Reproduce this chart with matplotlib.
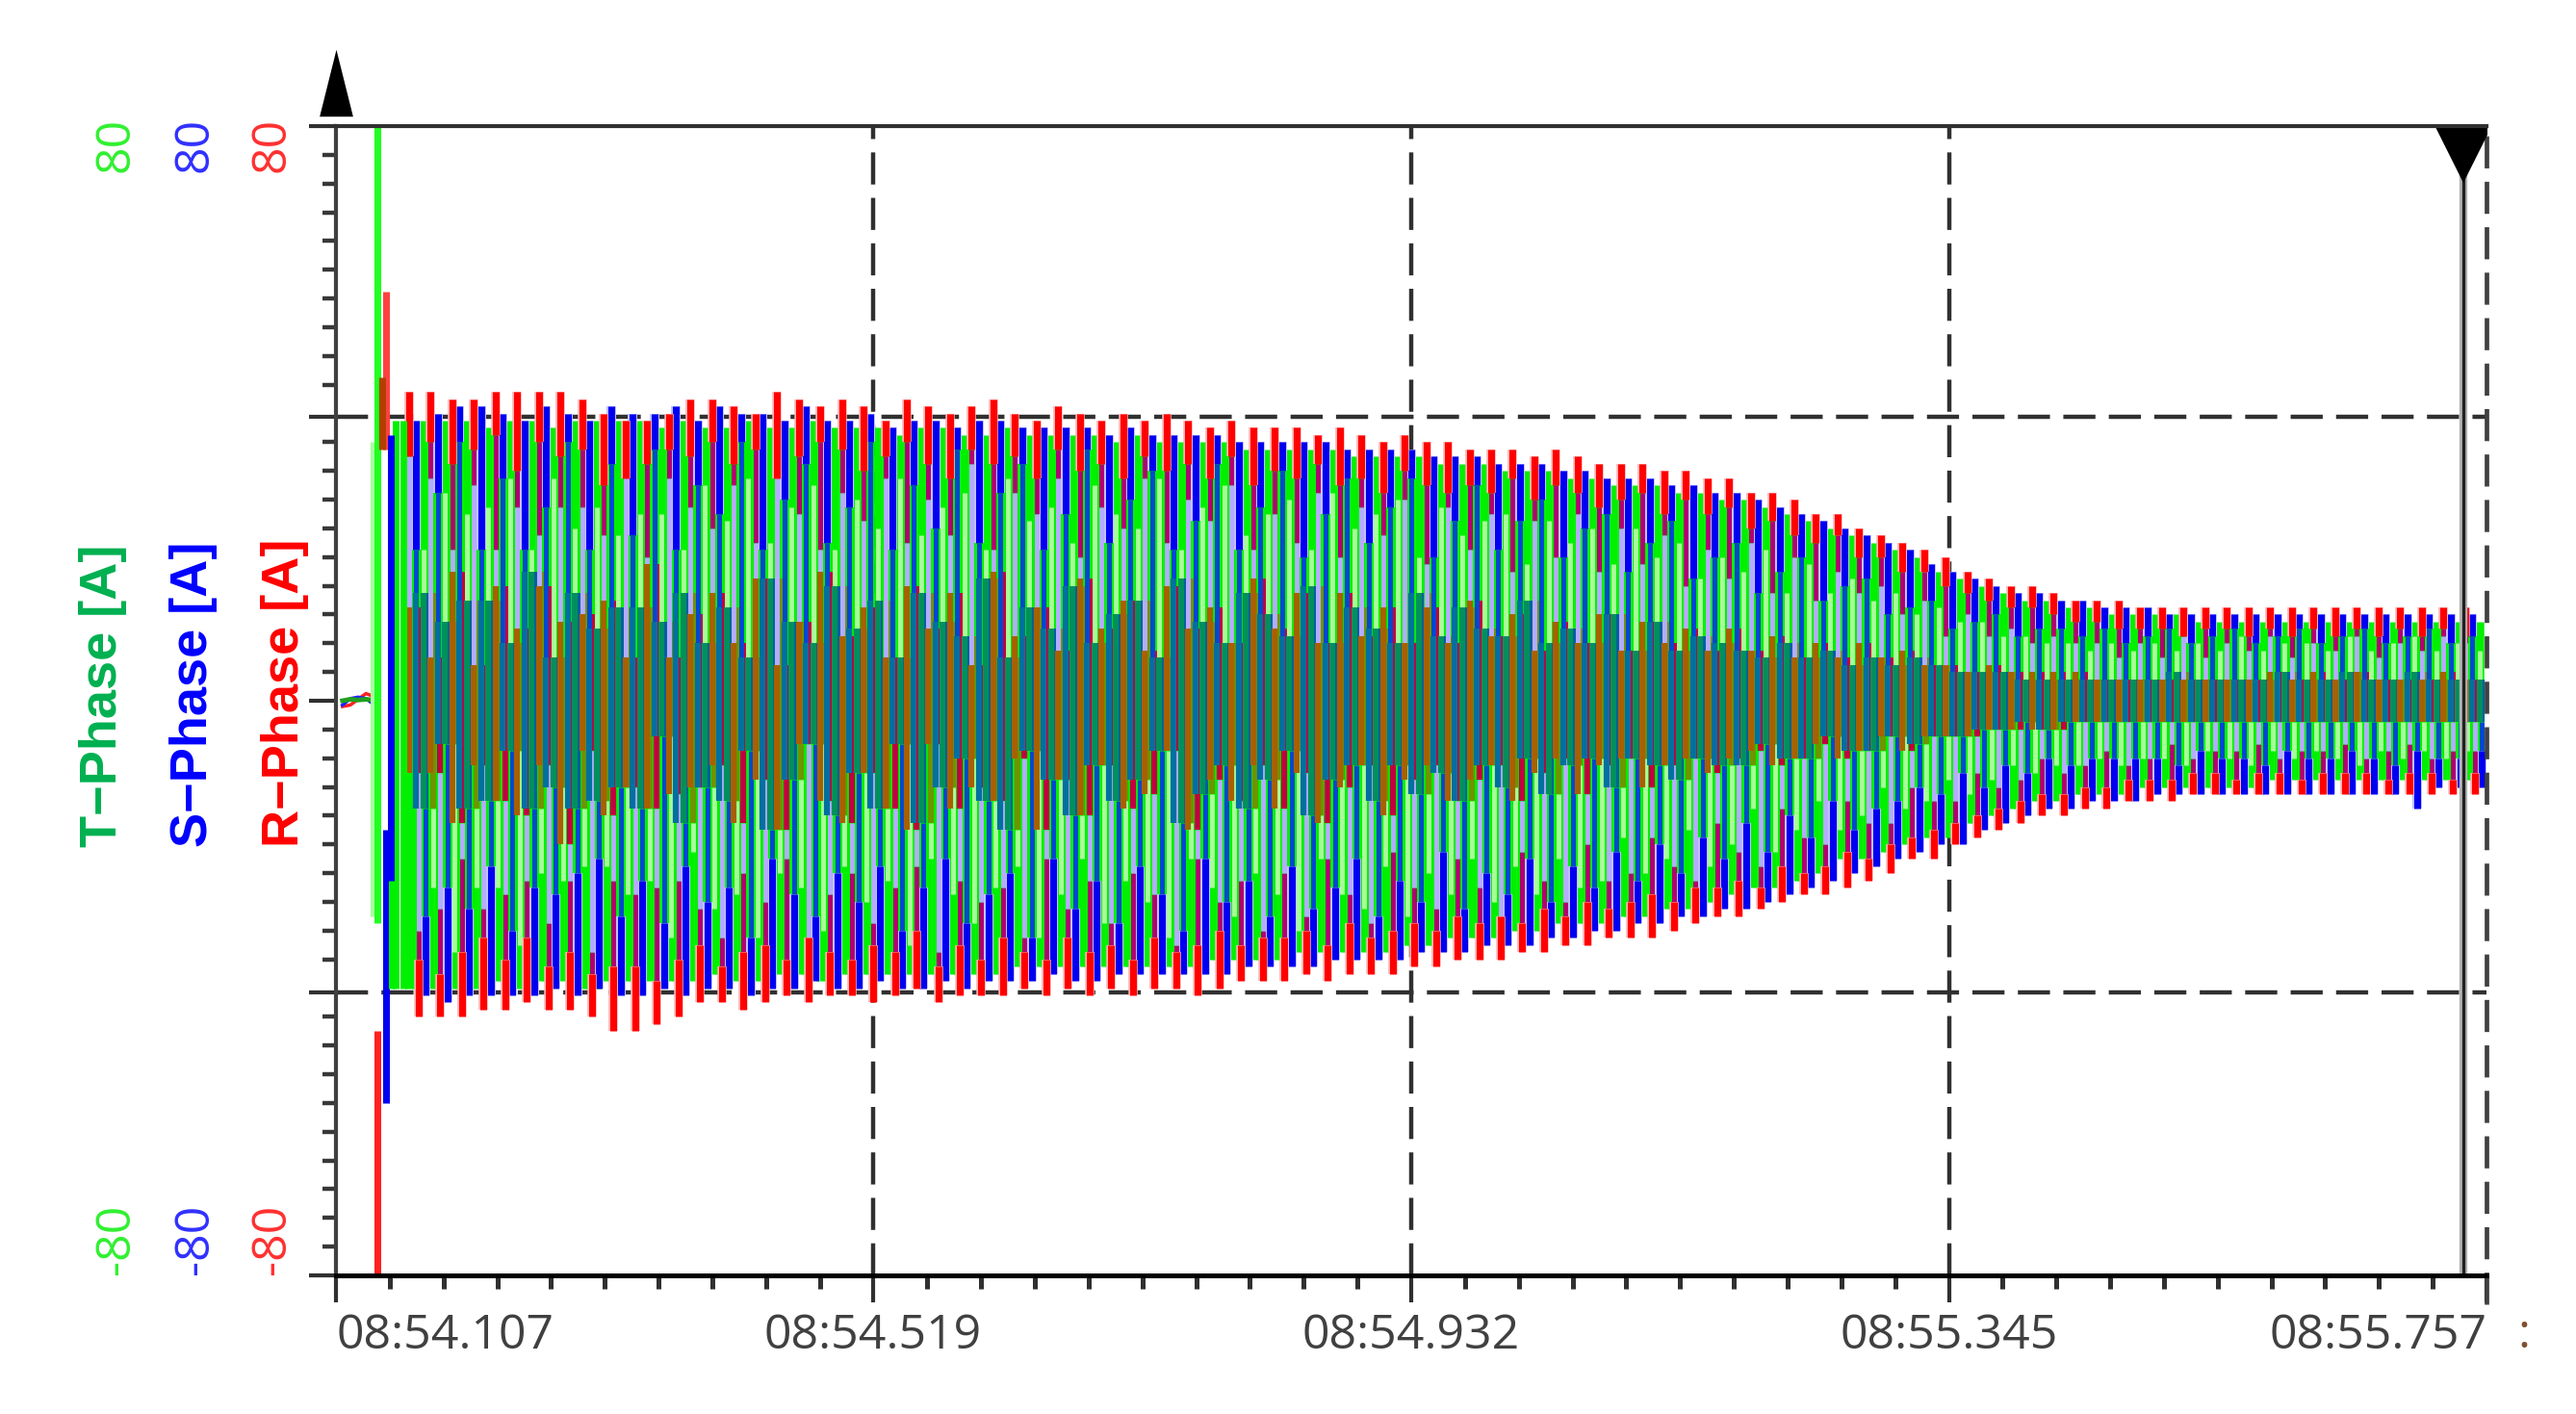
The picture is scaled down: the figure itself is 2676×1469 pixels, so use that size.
import matplotlib
matplotlib.use("Agg")
import numpy as np
import matplotlib.pyplot as plt

# values, one per 60 Hz cycle, in amps
hi_R = [43,43,42,42,43,43,43,43,42,40, 39,39,40,42,42,41,40,43,42,41, 42,41,39,42,41,40,41,42,40,39,
        41,40,39,40,39,40,39,38,39,38, 38,38,37,38,37,36,37,36,36,35, 35,35,34,35,34,33,33,33,32,32,
        31,31,29,29,28,26,26,24,23,22, 21,20,18,17,16,16,15,14,14,14, 13,13,13,13,13,13,13,13,13,13,
        13,13,13,13,13,13]
hi_S = [39,40,41,41,40,39,41,40,39,41, 40,40,41,39,41,40,40,39,41,39, 39,40,38,39,39,38,39,39,38,38,
        38,38,37,38,37,37,37,37,36,36, 36,36,36,35,35,35,35,34,34,34, 33,33,33,32,32,31,31,31,30,30,
        29,29,28,27,26,25,24,23,22,21, 19,18,17,16,15,15,14,14,13,13, 13,12,12,12,12,12,12,12,12,12,
        12,12,12,12,12,12]
hi_T = [39,39,39,38,39,39,38,39,39,39, 39,38,39,38,38,39,38,38,39,38, 38,38,37,38,38,37,37,38,37,37,
        37,37,36,37,36,36,36,36,35,35, 35,35,35,34,34,34,34,33,33,33, 32,32,32,31,31,30,30,30,29,29,
        28,28,27,26,25,24,23,22,21,20, 18,17,16,15,14,14,13,13,12,12, 12,12,11,11,11,11,11,11,11,11,
        11,11,11,11,11,11]
lo_R = [-44,-44,-44,-43,-43,-42,-43,-43,-44,-46, -46,-45,-44,-42,-42,-43,-42,-41,-42,-41,
        -41,-42,-41,-40,-42,-41,-41,-41,-40,-41, -40,-41,-40,-41,-40,-40,-41,-40,-39,-39,
        -39,-38,-39,-38,-38,-38,-37,-37,-36,-36, -36,-35,-35,-34,-34,-33,-33,-33,-32,-31,
        -30,-30,-29,-28,-27,-27,-26,-25,-24,-22, -22,-20,-19,-18,-17,-16,-16,-15,-15,-14,
        -14,-14,-13,-13,-13,-13,-13,-13,-13,-13, -13,-13,-13,-13,-13,-13]
lo_S = [-41,-42,-41,-41,-41,-41,-40,-41,-40,-41, -41,-40,-41,-40,-40,-41,-40,-40,-39,-40,
        -40,-39,-40,-40,-39,-40,-39,-39,-39,-38, -39,-39,-38,-38,-38,-38,-38,-38,-37,-37,
        -37,-37,-36,-36,-36,-36,-35,-35,-35,-34, -34,-34,-33,-33,-32,-32,-31,-31,-30,-30,
        -29,-29,-28,-27,-26,-25,-24,-23,-22,-21, -20,-20,-18,-17,-16,-15,-15,-14,-14,-14,
        -13,-13,-13,-13,-13,-13,-13,-13,-13,-13, -13,-13,-15,-12,-12,-12]
lo_T = [-40,-40,-40,-40,-39,-40,-39,-39,-40,-39, -39,-39,-39,-39,-38,-39,-39,-38,-38,-39,
        -38,-38,-38,-38,-38,-38,-38,-38,-37,-37, -37,-37,-37,-37,-37,-37,-37,-36,-36,-36,
        -36,-35,-35,-35,-35,-35,-34,-34,-33,-33, -33,-32,-32,-31,-31,-31,-30,-30,-29,-29,
        -28,-27,-26,-26,-25,-24,-22,-22,-21,-20, -19,-19,-17,-16,-15,-14,-14,-13,-13,-13,
        -12,-12,-12,-12,-12,-12,-11,-11,-11,-11, -11,-11,-11,-11,-11,-11]

# how far the red tips run before they sink into the other phases
up_red_stop = [34,36,33,35,37,32,36,34,35,30, 31,33,35,34,36,33,35,31,34,36, 35,32,34,36,33,31,35,33,34,31,
               35,32,33,31,34,32,33,31,34,30, 32,31,33,30,31,29,32,30,29,30, 29,31,28,30,29,27,28,29,26,28,
               26,27,24,25,23,22,23,20,20,18, 18,16,15,14,13,13,12,11,11,10, 10,10,9,10,10,9,10,9,10,9,
               10,9,10,9,10,9]
dn_red_stop = [-36,-38,-35,-33,-36,-33,-37,-35,-38,-37, -37,-39,-36,-34,-37,-35,-34,-36,-33,-35,
               -36,-34,-35,-32,-37,-34,-36,-33,-35,-36, -33,-35,-34,-36,-33,-35,-34,-32,-34,-33,
               -33,-32,-34,-31,-33,-32,-31,-32,-30,-31, -30,-31,-29,-30,-28,-29,-28,-27,-28,-26,
               -26,-25,-26,-23,-24,-23,-21,-22,-20,-19, -18,-17,-16,-15,-14,-13,-13,-12,-12,-11,
               -11,-11,-10,-10,-11,-10,-10,-11,-10,-10, -10,-11,-10,-10,-11,-10]

# edges of the pale gaps inside the band
up_R_end = [34,31,21,30,21,27,23,27,27,23, 33,20,31,27,24,30,22,32,26,21, 29,25,31,22,28,23,33,21,29,26,
            31,20,27,24,31,22,28,25,30,21, 26,22,29,20,27,23,28,19,27,21, 26,18,25,20,26,18,24,19,23,16,
            21,17,22,15,20,14,18,15,16,12, 14,9,12,9,10,8,9,8,8,6, 8,6,9,6,8,7,9,6,8,7, 9,6,8,7,9,8]
up_R_pale = [13,6,18,5,16,10,16,11,12,14, 6,19,6,12,15,8,17,5,11,18, 9,13,6,16,10,15,5,18,9,13,
             7,17,10,14,7,16,10,13,8,17, 10,15,8,15,9,13,8,13,8,14, 9,12,7,11,8,12,7,11,8,10,
             7,10,7,9,6,8,6,8,6,7, 5,5,4,5,4,4,4,4,3,3, 3,3,3,3,3,3,4,3,4,3, 4,3,3,3,4,3]
up_T_end = [21,29,26,27,31,21,31,24,27,23, 26,26,21,30,25,31,22,27,30,21, 28,24,31,23,27,29,21,31,25,27,
            22,30,26,24,31,21,27,30,23,26, 28,21,29,24,26,28,20,27,23,25, 26,19,25,22,24,19,24,20,22,17,
            20,18,21,15,19,15,17,14,15,12, 13,11,11,9,9,8,8,7,8,7, 8,7,8,7,9,7,8,8,7,9, 7,8,9,7,8,7]
up_T_pale = [15,11,14,14,8,18,6,15,10,13, 13,11,15,8,13,6,17,11,8,16, 10,14,6,15,11,9,17,6,13,10,
             16,8,12,14,6,17,11,8,15,12, 9,16,8,13,10,8,15,9,13,10, 9,14,8,10,8,12,7,11,7,9,
             8,7,6,8,6,7,5,6,5,6, 5,4,4,4,3,3,3,3,3,3, 3,4,3,3,3,3,4,3,3,4, 3,3,4,3,3,3]
up_S_end = [21,29,36,21,31,21,27,36,21,33, 23,35,21,30,26,36,21,28,33,22, 27,36,21,30,24,35,22,29,33,21,
            26,35,22,28,32,21,25,33,21,27, 32,20,26,31,22,27,31,20,25,30, 21,25,28,20,24,26,18,22,25,17,
            20,22,15,18,20,14,16,17,12,13, 14,10,11,12,9,10,10,9,10,8, 9,10,8,9,10,8,9,10,8,9, 10,8,9,10,8,9]
dn_R_end = [-32,-29,-22,-29,-27,-25,-31,-25,-35,-25, -27,-26,-25,-29,-33,-24,-28,-22,-34,-27,
            -24,-31,-26,-23,-35,-25,-28,-26,-33,-22, -29,-25,-31,-24,-27,-34,-22,-28,-25,-32,
            -24,-30,-22,-27,-31,-21,-26,-29,-22,-26, -30,-21,-25,-28,-20,-25,-24,-19,-23,-25,
            -17,-21,-23,-15,-19,-20,-14,-17,-17,-12, -14,-14,-10,-12,-11,-8,-10,-9,-7,-9,
            -8,-6,-8,-7,-7,-6,-8,-7,-7,-6, -8,-7,-6,-8,-7,-7]
dn_R_pale = [-10,-10,-17,-9,-14,-16,-9,-20,-7,-16, -12,-15,-13,-12,-9,-17,-11,-18,-6,-14,
             -17,-10,-15,-18,-6,-15,-12,-14,-8,-18, -11,-16,-9,-15,-13,-7,-18,-11,-14,-9,
             -15,-10,-17,-12,-9,-16,-11,-9,-14,-11, -9,-14,-10,-8,-13,-9,-8,-12,-9,-8,
             -10,-8,-7,-9,-8,-6,-8,-7,-5,-7, -5,-5,-5,-4,-4,-4,-4,-3,-3,-3,
             -3,-3,-3,-3,-3,-3,-3,-3,-3,-3, -3,-3,-3,-3,-3,-3]
dn_T_end = [-26,-35,-26,-26,-34,-24,-25,-23,-23,-27, -25,-33,-21,-29,-27,-33,-24,-26,-32,-23,
            -28,-25,-34,-22,-27,-31,-26,-23,-33,-27, -22,-31,-25,-28,-33,-22,-26,-30,-24,-27,
            -32,-22,-27,-29,-23,-30,-24,-27,-22,-28, -23,-27,-22,-26,-25,-19,-24,-22,-18,-23,
            -20,-15,-21,-18,-14,-18,-16,-12,-15,-14, -11,-13,-11,-9,-10,-9,-9,-8,-9,-8,
            -8,-9,-7,-8,-9,-7,-8,-7,-8,-9, -7,-8,-7,-8,-7,-8]
dn_T_pale = [-15,-6,-15,-14,-7,-15,-12,-15,-14,-12, -15,-5,-17,-12,-14,-7,-18,-11,-6,-16,
             -10,-15,-6,-17,-12,-8,-14,-18,-7,-11, -16,-9,-14,-11,-7,-17,-13,-9,-15,-11,
             -7,-16,-11,-9,-14,-9,-13,-10,-14,-9, -12,-8,-13,-9,-8,-12,-8,-9,-11,-8,
             -9,-9,-6,-8,-8,-5,-7,-7,-5,-6, -5,-5,-4,-4,-3,-4,-3,-3,-3,-3,
             -3,-3,-3,-3,-3,-3,-3,-3,-3,-3, -3,-3,-3,-3,-3,-3]
dn_S_end = [-30,-26,-29,-23,-32,-26,-27,-24,-22,-30, -25,-31,-23,-28,-26,-33,-22,-27,-30,-24,
            -28,-23,-32,-26,-22,-31,-27,-24,-33,-22, -29,-25,-31,-23,-27,-32,-22,-28,-25,-30,
            -23,-29,-26,-22,-30,-25,-28,-21,-29,-24, -27,-22,-28,-23,-26,-21,-25,-20,-24,-19,
            -22,-17,-21,-16,-19,-14,-18,-15,-14,-12, -13,-10,-12,-9,-10,-8,-9,-8,-8,-8,
            -8,-9,-7,-8,-8,-9,-7,-8,-8,-7, -8,-9,-7,-8,-8,-7]

# switching transient at the start of the record
fault_t = [54.1355, 54.1388, 54.1388, 54.1455, 54.1425, 54.1455, 54.1500, 54.1530, 54.1585, 54.1490]
fault_hi = [36, 80, -46, 57, 45, -18, 36, 39, 39, 37]
fault_lo = [-30, -31, -80, 35, 35, -56, -40, -40, -40, -25]
fault_colors = ["#A8FFA0", "#20FF20", "#FF2020", "#FF4040", "#B04000", "#0000F0", "#00F000", "#00F000", "#00F000",
                "#0000F0"]

# small pre-fault currents
pre_t = [54.112, 54.118, 54.124, 54.130, 54.136]
pre_R = [-0.8, -0.6, 0.2, 1.0, 0.6]
pre_S = [-0.6, 0.3, 0.5, 0.3, -0.5]
pre_T = [0.0, 0.2, 0.1, 0.2, 0.1]

time_ticks = [54.107, 54.519, 54.932, 55.345, 55.757]
time_labels = ["08:54.107", "08:54.519", "08:54.932", "08:55.345", "08:55.757"]
grid_amps = [39.5, -40.6]
cursor_time = 55.739

WIDTH, HEIGHT = 2676, 1469
LEFT, RIGHT, TOP, BOTTOM = 349, 2583, 131, 1325
PX = 0.72  # one pixel in points at dpi 100

plt.rcParams["lines.scale_dashes"] = False
fig = plt.figure(figsize=(WIDTH / 100, HEIGHT / 100), dpi=100)
ax = fig.add_axes([LEFT / WIDTH, 1 - BOTTOM / HEIGHT, (RIGHT - LEFT) / WIDTH, (BOTTOM - TOP) / HEIGHT])
ax.set_xlim(54.107, 55.757)
ax.set_ylim(-80, 80)

period = 0.016604
first = 54.1631
cycles = first + period * np.arange(len(hi_R))
off_S = 0.00547
off_T = 0.01108
half = 0.00739


def strokes(x, a, b, color, px=6.2, z=2):
    ax.vlines(x, a, b, colors=color, linewidth=px * PX, capstyle="butt", zorder=z)


# grid sits behind the traces
for y in grid_amps:
    ax.axhline(y, color="#303030", lw=3.2, dashes=(24, 10), zorder=1)
for t in time_ticks[1:4]:
    ax.axvline(t, color="#303030", lw=3.2, dashes=(24, 10), zorder=1)

# green block under everything
for off in (0, off_S, off_T):
    strokes(cycles + off, hi_T, lo_T, "#00F000", px=8.5, z=2)

ax.plot(pre_t, pre_R, color="#FF2020", lw=2.5, zorder=2)
ax.plot(pre_t, pre_S, color="#2020FF", lw=2.5, zorder=2)
ax.plot(pre_t, pre_T, color="#20A020", lw=3.5, zorder=2)

# lower half of each cycle
x = cycles + half
strokes(x + off_T, dn_T_end, dn_T_pale, "#A8FF98", px=5, z=3)
strokes(x + off_T, dn_T_pale, up_T_pale, "#6E9400", z=3)
strokes(x + off_S, lo_S, dn_S_end, "#C0C0FF", px=10, z=3)
strokes(x + off_S, lo_S, dn_S_end, "#0000F0", px=7, z=3)
strokes(x + off_S, dn_S_end, dn_T_pale, "#0048D0", px=5, z=3)
strokes(x + off_S, dn_T_pale, up_T_pale, "#005FA0", z=3)
strokes(x, dn_red_stop, dn_R_end, "#B00070", px=5, z=3)
strokes(x, dn_R_end, dn_R_pale, "#B4ACFF", px=5, z=3)
strokes(x, dn_R_pale, up_R_pale, "#C00040", z=3)
strokes(x, lo_R, dn_red_stop, "#FFB0B0", px=9.5, z=4)
strokes(x, lo_R, dn_red_stop, "#FF0000", px=7, z=4)

# upper half
x = cycles
strokes(x + off_T, up_T_end, up_T_pale, "#A8FF98", px=5, z=5)
strokes(x + off_T, up_T_pale, dn_T_pale, "#00905C", z=5)
strokes(x + off_S, hi_S, up_S_end, "#C0C0FF", px=10, z=5)
strokes(x + off_S, hi_S, up_S_end, "#0000F0", px=7, z=5)
strokes(x + off_S, up_S_end, up_T_pale, "#0048D0", px=5, z=5)
strokes(x + off_S, up_T_pale, dn_T_pale, "#0070A0", z=5)
strokes(x, up_red_stop, up_R_end, "#B00070", px=5, z=5)
strokes(x, up_R_end, up_R_pale, "#B4ACFF", px=5, z=5)
strokes(x, up_R_pale, dn_R_pale, "#A86000", z=5)
strokes(x, hi_R, up_red_stop, "#FFB0B0", px=9.5, z=6)
strokes(x, hi_R, up_red_stop, "#FF0000", px=7, z=6)

for t, a, b, c in zip(fault_t, fault_hi, fault_lo, fault_colors):
    strokes(t, a, b, c, px=7, z=7)

# measuring cursors and right hand limit
ax.axvline(cursor_time, color="#B4B4B4", lw=6, zorder=8)
ax.axvline(cursor_time, color="#202020", lw=2.4, zorder=9)
ax.plot([cursor_time], [76.2], marker="v", ms=45, color="black", mew=0, zorder=10, clip_on=True)
ax.plot([54.107], [86], marker=[(-1, -2), (1, -2), (0, 2)], ms=50, color="black", mew=0, zorder=10, clip_on=False)
ax.plot([55.757, 55.757], [-84, 80], color="#404040", lw=3.4, dashes=(24, 10), clip_on=False, zorder=8)

ax.spines["right"].set_visible(False)
ax.spines["top"].set_linewidth(3)
ax.spines["top"].set_color("#303030")
ax.spines["bottom"].set_linewidth(3.6)
ax.spines["bottom"].set_color("black")
ax.spines["left"].set_linewidth(3)
ax.spines["left"].set_color("#404040")
for s in ax.spines.values():
    s.set_zorder(11)

minor_y = [v for v in np.arange(-76, 80, 4) if v not in (-40, 0, 40)]
ax.set_yticks([80, grid_amps[0], 0, grid_amps[1], -80])
ax.set_yticklabels([])
ax.set_yticks(minor_y, minor=True)
ax.tick_params(axis="y", which="major", length=20, width=3, color="#303030")
ax.tick_params(axis="y", which="minor", length=10, width=3.2, color="#383838")

ax.set_xticks(time_ticks)
ax.set_xticklabels(time_labels, fontsize=36, family="Open Sans", color="#404040")
ax.set_xticks([v for v in 54.107 + 0.04125 * np.arange(1, 40) if min(abs(v - t) for t in time_ticks) > 0.01], minor=True)
ax.tick_params(axis="x", which="major", length=20, width=3, color="#303030", pad=8)
ax.tick_params(axis="x", which="minor", length=10, width=3.6, color="#303030")
labels = ax.get_xticklabels()
labels[0].set_ha("left")
labels[-1].set_ha("right")


def px_text(x, y, s, **kw):
    fig.text(x / WIDTH, 1 - y / HEIGHT, s, **kw)


# stacked channel scales and names
channels = [(121, "#30F030", "#00B050", "T\u2212Phase [A]", 107),
            (203, "#3030FF", "#0000FF", "S\u2212Phase [A]", 201),
            (283, "#FF3030", "#FF0000", "R\u2212Phase [A]", 296)]
for x_scale, light, dark, name, x_name in channels:
    px_text(x_scale, 122, "80", rotation=90, ha="center", va="top", fontsize=36, color=light, family="Open Sans")
    px_text(x_scale, 1324, "-80", rotation=90, ha="center", va="bottom", fontsize=36, color=light, family="Open Sans")
    px_text(x_name, 880, name, rotation=90, ha="center", va="bottom", fontsize=39, weight="bold", color=dark,
            family="Liberation Sans")

px_text(2622, 1362, ":", ha="center", va="top", fontsize=36, color="#805030", family="Open Sans")

fig.savefig("out.png", dpi=100, facecolor="white")
